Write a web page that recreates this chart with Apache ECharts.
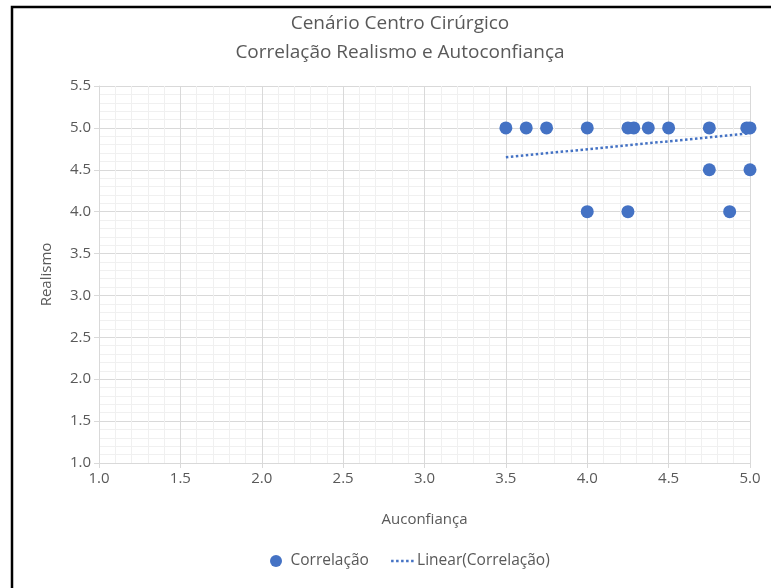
<!DOCTYPE html>
<html>
<head>
<meta charset="utf-8">
<script src="https://cdn.jsdelivr.net/npm/echarts@6/dist/echarts.min.js"></script>
<style>
html,body{margin:0;padding:0;background:#fff;}
#chart{width:771px;height:588px;}
</style>
</head>
<body>
<div id="chart"></div>
<script>
// Scatter points: Autoconfiança (x) and Realismo (y)
const autoconfianca = [3.5, 3.625, 3.75, 4.0, 4.25, 4.286, 4.375, 4.5, 4.75, 4.98, 5.0, 4.75, 5.0, 4.0, 4.25, 4.875];
const realismo      = [5.0, 5.0,   5.0,  5.0, 5.0,  5.0,   5.0,   5.0, 5.0,  5.0,  5.0, 4.5,  4.5, 4.0, 4.0,  4.0];
// Linear trendline endpoints
const trendX = [3.5, 5.0];
const trendY = [4.65, 4.935];
const xTicks = {min: 1.0, max: 5.0, step: 0.5};
const yTicks = {min: 1.0, max: 5.5, step: 0.5};
const titleLines = ['Cenário Centro Cirúrgico', 'Correlação Realismo e Autoconfiança'];
const seriesNames = ['Correlação', 'Linear(Correlação)'];

const FONT = "'Open Sans', sans-serif";
const BLUE = '#4472C4';
const TXT = '#595959';

const chart = echarts.init(document.getElementById('chart'), null, {renderer: 'canvas'});
chart.setOption({
  animation: false,
  backgroundColor: '#ffffff',
  textStyle: {fontFamily: FONT},
  title: {
    text: titleLines.join('\n'),
    left: 395, top: 4, textAlign: 'center',
    textStyle: {fontFamily: FONT, fontSize: 19, fontWeight: 'normal', color: TXT, lineHeight: 29}
  },
  grid: {left: 99, right: 21, top: 86, bottom: 125, containLabel: false},
  legend: {
    top: 548, left: 265,
    itemGap: 21, itemWidth: 23, itemHeight: 12,
    textStyle: {fontFamily: FONT, fontSize: 15.5, color: TXT, padding: [0, 0, 0, -2]},
    data: [
      {name: seriesNames[0], icon: 'circle', itemStyle: {color: BLUE}},
      {name: seriesNames[1], itemStyle: {opacity: 0, color: 'transparent', borderWidth: 0},
       lineStyle: {color: BLUE, width: 2.5, type: [2.5, 2.5], opacity: 1}}
    ]
  },
  xAxis: {
    type: 'value', min: xTicks.min, max: xTicks.max, interval: xTicks.step,
    name: 'Auconfiança', nameLocation: 'middle', nameGap: 49,
    nameTextStyle: {fontFamily: FONT, fontSize: 15, color: TXT},
    axisLine: {show: true, lineStyle: {color: '#d9d9d9', width: 1}},
    axisTick: {show: true, length: 5, lineStyle: {color: '#d9d9d9'}},
    axisLabel: {fontFamily: FONT, fontSize: 15, color: TXT, margin: 8, formatter: v => v.toFixed(1)},
    splitLine: {show: true, lineStyle: {color: '#d9d9d9', width: 1}},
    minorTick: {show: false, splitNumber: 5},
    minorSplitLine: {show: true, lineStyle: {color: '#f0f0f0', width: 1}}
  },
  yAxis: {
    type: 'value', min: yTicks.min, max: yTicks.max, interval: yTicks.step,
    name: 'Realismo', nameLocation: 'middle', nameGap: 45,
    nameTextStyle: {fontFamily: FONT, fontSize: 15, color: TXT},
    axisLine: {show: true, lineStyle: {color: '#d9d9d9', width: 1}},
    axisTick: {show: true, length: 5, lineStyle: {color: '#d9d9d9'}},
    axisLabel: {fontFamily: FONT, fontSize: 15, color: TXT, margin: 8, formatter: v => v.toFixed(1)},
    splitLine: {show: true, lineStyle: {color: '#d9d9d9', width: 1}},
    minorTick: {show: false, splitNumber: 5},
    minorSplitLine: {show: true, lineStyle: {color: '#f0f0f0', width: 1}}
  },
  series: [
    {
      name: seriesNames[0], type: 'scatter', symbol: 'circle', symbolSize: 13,
      itemStyle: {color: BLUE, opacity: 1},
      data: autoconfianca.map((x, i) => [x, realismo[i]]), z: 3
    },
    {
      name: seriesNames[1], type: 'line', showSymbol: false, symbol: 'none',
      lineStyle: {color: BLUE, width: 2.5, type: [2.5, 2.5]},
      itemStyle: {color: BLUE},
      data: trendX.map((x, i) => [x, trendY[i]]), z: 2
    }
  ],
  graphic: [{
    type: 'polyline', silent: true,
    shape: {points: [[12, 588], [12, 7], [771, 7]]},
    style: {stroke: '#000', lineWidth: 2.5, fill: null}
  }]
});
</script>
</body>
</html>
